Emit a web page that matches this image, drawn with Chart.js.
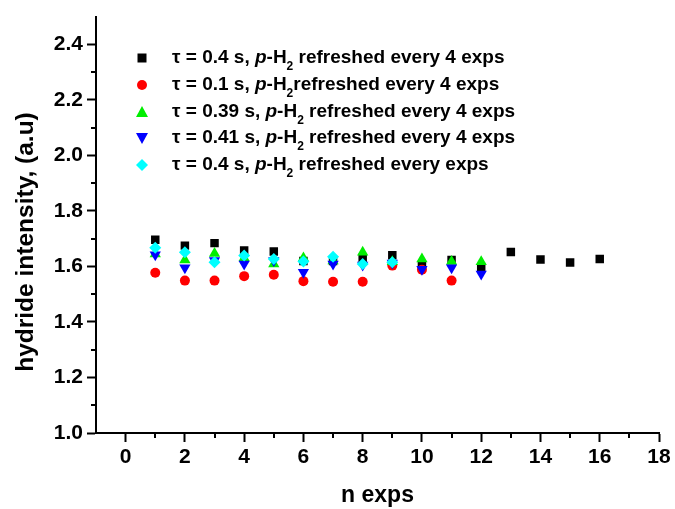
<!DOCTYPE html>
<html lang="en">
<head>
<meta charset="UTF-8" />
<title>Hydride intensity vs n exps</title>
<script src="https://cdn.jsdelivr.net/npm/chart.js"></script>
<style>
  body {margin:0;background:#fff;}
  #wrap {width:675px;height:509px;position:relative;}
</style>
</head>
<body>
<div id="wrap"><canvas id="chart"></canvas></div>
<script>
// --------- data ---------
const nExps = [1,2,3,4,5,6,7,8,9,10,11,12,13,14,15,16];
const tau04Every4  = [1.696,1.675,1.684,1.657,1.654,1.620,1.620,1.630,1.640,1.605,1.623,1.595,1.652,1.625,1.614,1.627];
const tau01Every4  = [1.577,1.549,1.549,1.565,1.570,1.547,1.545,1.545,1.603,1.588,1.549];
const tau039Every4 = [1.645,1.623,1.647,1.630,1.609,1.630,1.620,1.651,1.617,1.627,1.618,1.617];
const tau041Every4 = [1.642,1.595,1.621,1.609,1.621,1.579,1.609,1.605,1.612,1.590,1.595,1.573];
const tau04Every1  = [1.667,1.651,1.615,1.639,1.627,1.618,1.635,1.609,1.615];

const legendTau = ['τ = 0.4 s, ','τ = 0.1 s, ','τ = 0.39 s, ','τ = 0.41 s, ','τ = 0.4 s, '];
const legendRest = [' refreshed every 4 exps','refreshed every 4 exps',' refreshed every 4 exps',' refreshed every 4 exps',' refreshed every exps'];
const yTitle = 'hydride intensity, (a.u)';

const xMajorTicks = [0,2,4,6,8,10,12,14,16,18];
const xMinorTicks = [1,3,5,7,9,11,13,15,17];
const yMajorTicks = [1.0,1.2,1.4,1.6,1.8,2.0,2.2,2.4];
const yMinorTicks = [1.1,1.3,1.5,1.7,1.9,2.1,2.3];

const FONT = '"Liberation Sans", Arial, sans-serif';

const toPts = vals => vals.map((v,i)=>({x:nExps[i],y:v}));

const styles = [
  {color:'#000000', pointStyle:'rect',     radius:6,   rotation:0},
  {color:'#ff0000', pointStyle:'circle',   radius:5,   rotation:0},
  {color:'#00ee00', pointStyle:'triangle', radius:6.5, rotation:0},
  {color:'#0000ff', pointStyle:'triangle', radius:6.5, rotation:180},
  {color:'#00ffff', pointStyle:'rectRot',  radius:6,   rotation:0}
];
const seriesVals = [tau04Every4, tau01Every4, tau039Every4, tau041Every4, tau04Every1];

const datasets = seriesVals.map((vals,i)=>({
  label: legendTau[i] + 'p-H2' + legendRest[i],
  data: toPts(vals),
  showLine:false,
  backgroundColor: styles[i].color,
  borderColor: styles[i].color,
  borderWidth: 0,
  pointStyle: styles[i].pointStyle,
  pointRadius: styles[i].radius,
  pointRotation: styles[i].rotation,
  order: 5 - i
}));

// minor ticks, y title (sits a bit below centre in the original) and rich-text legend
const extras = {
  id:'extras',
  afterDraw(chart){
    const {ctx, chartArea:a, scales:{x,y}} = chart;
    ctx.save();
    ctx.strokeStyle='#000'; ctx.lineWidth=2;
    ctx.beginPath();
    xMinorTicks.forEach(v=>{const px=Math.round(x.getPixelForValue(v)); ctx.moveTo(px,a.bottom); ctx.lineTo(px,a.bottom+5);});
    yMinorTicks.forEach(v=>{const py=Math.round(y.getPixelForValue(v)); ctx.moveTo(a.left,py); ctx.lineTo(a.left-5,py);});
    ctx.stroke();

    ctx.save();
    ctx.translate(26,242);
    ctx.rotate(-Math.PI/2);
    ctx.font='bold 24.5px '+FONT;
    ctx.fillStyle='#000';
    ctx.textAlign='center';
    ctx.textBaseline='middle';
    ctx.fillText(yTitle,0,0);
    ctx.restore();

    const rowY = [58,85,112,138,165];
    styles.forEach((s,i)=>{
      const mx=142, my=rowY[i];
      ctx.fillStyle=s.color;
      ctx.beginPath();
      if(s.pointStyle==='rect'){ctx.rect(mx-4.5,my-4.5,9,9);}
      else if(s.pointStyle==='circle'){ctx.arc(mx,my,5,0,Math.PI*2);}
      else if(s.pointStyle==='triangle'&&s.rotation===0){ctx.moveTo(mx,my-6);ctx.lineTo(mx+6,my+5);ctx.lineTo(mx-6,my+5);ctx.closePath();}
      else if(s.pointStyle==='triangle'){ctx.moveTo(mx,my+6);ctx.lineTo(mx+6,my-5);ctx.lineTo(mx-6,my-5);ctx.closePath();}
      else {ctx.moveTo(mx,my-6);ctx.lineTo(mx+6,my);ctx.lineTo(mx,my+6);ctx.lineTo(mx-6,my);ctx.closePath();}
      ctx.fill();

      ctx.fillStyle='#000';
      ctx.textBaseline='middle';
      let tx=172;
      const parts=[
        {t:legendTau[i], f:'bold 19px '+FONT},
        {t:'p', f:'italic bold 19px '+FONT},
        {t:'-H', f:'bold 19px '+FONT},
        {t:'2', f:'bold 12px '+FONT, dy:9},
        {t:legendRest[i], f:'bold 19px '+FONT}
      ];
      parts.forEach(p=>{ctx.font=p.f; ctx.fillText(p.t,tx,my+(p.dy||0)); tx+=ctx.measureText(p.t).width;});
    });
    ctx.restore();
  }
};

const tickFont = {family:FONT, size:21, weight:'bold'};

new Chart(document.getElementById('chart'),{
  type:'scatter',
  data:{datasets},
  plugins:[extras],
  options:{
    responsive:true,
    maintainAspectRatio:false,
    animation:false,
    layout:{padding:{left:0,top:15,right:16,bottom:0}},
    plugins:{legend:{display:false},tooltip:{enabled:false}},
    scales:{
      x:{
        type:'linear', min:-1, max:18,
        afterBuildTicks:s=>{s.ticks=xMajorTicks.map(v=>({value:v}));},
        afterFit:s=>{s.height=76;},
        ticks:{font:tickFont,color:'#000',padding:3,autoSkip:false,maxRotation:0},
        grid:{drawOnChartArea:false,tickLength:9,tickWidth:2,tickColor:'#000'},
        border:{color:'#000',width:2},
        title:{display:true,text:'n exps',color:'#000',font:{family:FONT,size:23,weight:'bold'},padding:{top:0,bottom:0}}
      },
      y:{
        type:'linear', min:1.0, max:2.5,
        afterBuildTicks:s=>{s.ticks=yMajorTicks.map(v=>({value:v}));},
        afterFit:s=>{s.width=96;},
        ticks:{font:tickFont,color:'#000',padding:4,callback:v=>v.toFixed(1)},
        grid:{drawOnChartArea:false,tickLength:9,tickWidth:2,tickColor:'#000'},
        border:{color:'#000',width:2},
        title:{display:false}
      }
    }
  }
});
</script>
</body>
</html>
